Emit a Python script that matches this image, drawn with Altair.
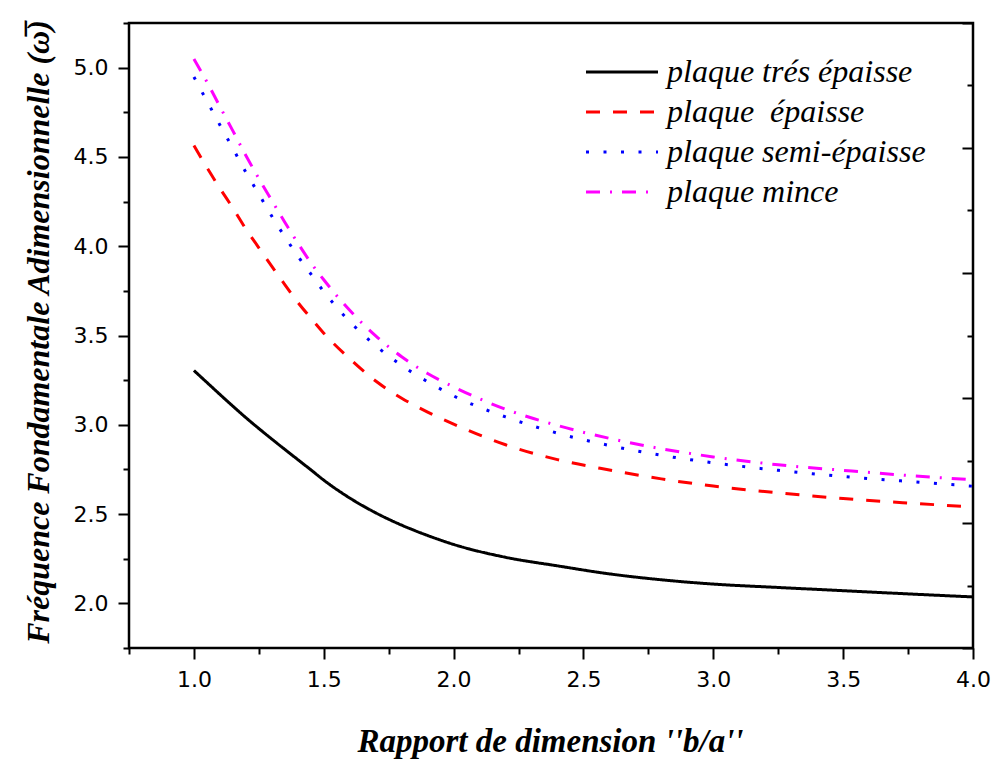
import altair as alt
import pandas as pd

# ---- data ----
x_vals = [1.0, 1.05, 1.1, 1.15, 1.2, 1.25, 1.3, 1.35, 1.4, 1.45, 1.5, 1.6, 1.7, 1.8,
          1.9, 2.0, 2.2, 2.4, 2.6, 2.8, 3.0, 3.25, 3.5, 3.75, 4.0]
tres_epaisse = [3.304, 3.237, 3.170, 3.104, 3.040, 2.979, 2.920, 2.862, 2.805, 2.748,
                2.690, 2.590, 2.507, 2.438, 2.380, 2.330, 2.258, 2.210, 2.165, 2.132,
                2.108, 2.089, 2.071, 2.053, 2.036]
epaisse = [4.564, 4.441, 4.324, 4.214, 4.097, 3.991, 3.887, 3.785, 3.686, 3.598,
           3.513, 3.370, 3.245, 3.149, 3.071, 3.004, 2.888, 2.805, 2.747, 2.697,
           2.657, 2.619, 2.587, 2.562, 2.540]
semi_epaisse = [4.948, 4.813, 4.679, 4.548, 4.414, 4.292, 4.168, 4.053, 3.945, 3.845,
                3.746, 3.578, 3.443, 3.332, 3.241, 3.162, 3.044, 2.953, 2.884, 2.829,
                2.787, 2.745, 2.710, 2.683, 2.656]
mince = [5.049, 4.920, 4.782, 4.646, 4.508, 4.379, 4.256, 4.134, 4.018, 3.908,
         3.812, 3.641, 3.498, 3.381, 3.287, 3.212, 3.087, 2.996, 2.924, 2.866,
         2.820, 2.776, 2.745, 2.716, 2.692]
series_names = ["plaque trés épaisse", "plaque \u00a0épaisse",
                "plaque semi-épaisse", "plaque mince"]
series_colors = ["#000000", "#ff0000", "#0000ff", "#ff00ff"]
series_dashes = [[1, 0], [14, 13], [3, 14.5], [14, 10, 2, 10]]

x_major = [1.0, 1.5, 2.0, 2.5, 3.0, 3.5, 4.0]
x_minor = [0.75, 1.25, 1.75, 2.25, 2.75, 3.25, 3.75]
y_major = [2.0, 2.5, 3.0, 3.5, 4.0, 4.5, 5.0]
y_minor = [1.75, 2.25, 2.75, 3.25, 3.75, 4.25, 4.75, 5.25]
right_major = [1.75, 2.45, 3.15, 3.85, 4.55, 5.25]
right_minor = [2.1, 2.8, 3.5, 4.2, 4.9]

rows = []
for name, vals in zip(series_names, [tres_epaisse, epaisse, semi_epaisse, mince]):
    for xv, yv in zip(x_vals, vals):
        rows.append({"x": xv, "y": yv, "serie": name})
df = pd.DataFrame(rows)

W, H = 844, 625
TICK_FONT = "DejaVu Sans"
TICK_SIZE = 22

x_scale = alt.Scale(domain=[0.75, 4.0], nice=False, zero=False)
y_scale = alt.Scale(domain=[1.75, 5.25], nice=False, zero=False)

x_axis = alt.Axis(
    values=x_major, grid=False, domain=False, orient="bottom",
    format=".1f", tickSize=11, tickWidth=2, tickColor="black",
    labelFont=TICK_FONT, labelFontSize=TICK_SIZE, labelColor="black", labelPadding=10,
    labelFlush=False, labelOverlap=False,
    title="Rapport de dimension ''b/a''",
    titleFont="Liberation Serif", titleFontStyle="italic", titleFontWeight="bold",
    titleFontSize=33, titleColor="black",
    titleX=W / 2 - 1, titleY=103, titleAlign="center", titleBaseline="alphabetic",
)
x_minor_axis = alt.Axis(
    values=x_minor, grid=False, domain=False, orient="bottom", labels=False,
    title=None, tickSize=6, tickWidth=2, tickColor="black",
)
y_axis = alt.Axis(
    values=y_major, grid=False, domain=False, orient="left",
    format=".1f", tickSize=11, tickWidth=2, tickColor="black",
    labelFont=TICK_FONT, labelFontSize=TICK_SIZE, labelColor="black", labelPadding=10,
    labelFlush=False, labelOverlap=False,
    title="Fréquence Fondamentale Adimensionnelle (ω\u0305)",
    titleFont="Liberation Serif", titleFontStyle="italic", titleFontWeight="bold",
    titleFontSize=32, titleColor="black",
    titleX=-81, titleY=H / 2 - 4, titleAlign="center", titleBaseline="alphabetic",
    titleAngle=270,
)
y_minor_axis = alt.Axis(
    values=y_minor, grid=False, domain=False, orient="left", labels=False,
    title=None, tickSize=6, tickWidth=2, tickColor="black",
)
right_major_axis = alt.Axis(
    values=right_major, orient="right", offset=-11, grid=False, domain=False,
    labels=False, title=None, tickSize=11, tickWidth=2, tickColor="black",
)
right_minor_axis = alt.Axis(
    values=right_minor, orient="right", offset=-6, grid=False, domain=False,
    labels=False, title=None, tickSize=6, tickWidth=2, tickColor="black",
)

legend = alt.Legend(
    orient="none", legendX=477, legendY=33, title=None, padding=0,
    symbolType="M-3.6,0H3.6", symbolSize=400, symbolStrokeWidth=3,
    labelFont="Liberation Serif", labelFontStyle="italic", labelFontSize=32,
    labelColor="black", labelOffset=29, rowPadding=8, labelLimit=400,
)

color = alt.Color("serie:N", scale=alt.Scale(domain=series_names, range=series_colors),
                  legend=legend, sort=series_names)
dash = alt.StrokeDash("serie:N", scale=alt.Scale(domain=series_names, range=series_dashes),
                      legend=legend, sort=series_names)

base = alt.Chart(df)
lines = base.mark_line(strokeWidth=3, interpolate="monotone", clip=True).encode(
    x=alt.X("x:Q", scale=x_scale, axis=x_axis),
    y=alt.Y("y:Q", scale=y_scale, axis=y_axis),
    color=color,
    strokeDash=dash,
    order="x:Q",
)
ghost_minor = base.mark_line(opacity=0).encode(
    x=alt.X("x:Q", axis=x_minor_axis),
    y=alt.Y("y:Q", axis=y_minor_axis),
    detail="serie:N",
)
ghost_right_major = base.mark_line(opacity=0).encode(
    x=alt.X("x:Q", axis=None),
    y=alt.Y("y:Q", axis=right_major_axis),
    detail="serie:N",
)
ghost_right_minor = base.mark_line(opacity=0).encode(
    x=alt.X("x:Q", axis=None),
    y=alt.Y("y:Q", axis=right_minor_axis),
    detail="serie:N",
)

chart = alt.layer(lines, ghost_minor, ghost_right_major, ghost_right_minor).resolve_axis(
    x="independent", y="independent"
).properties(
    width=W, height=H,
    padding={"left": 129, "top": 23, "right": 20, "bottom": 112},
    autosize=alt.AutoSizeParams(type="none"),
    background="white",
).configure_view(
    stroke="black", strokeWidth=2.5,
)

chart.save("out.html", embed_options={"renderer": "svg", "actions": False})
